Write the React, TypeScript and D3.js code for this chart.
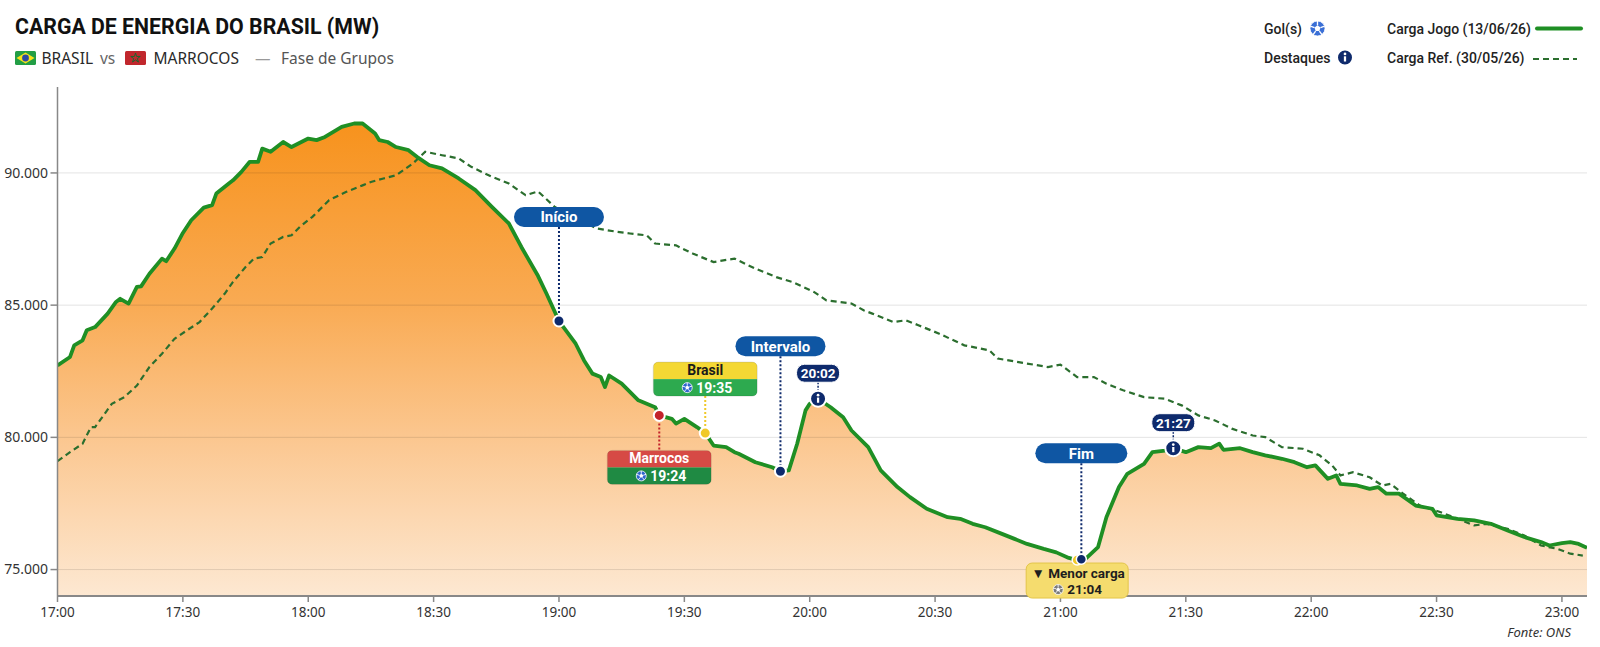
import React from "react";
import * as d3 from "d3";

// ---------------- DATA ----------------
const xTickLabels = ["17:00", "17:30", "18:00", "18:30", "19:00", "19:30", "20:00", "20:30", "21:00", "21:30", "22:00", "22:30", "23:00"];
const yTickValues = [75000, 80000, 85000, 90000];
const timeDomain = ["17:00", "23:06"];
const loadDomain = [74000, 93250];

const cargaJogo: [string, number][] = [
  ["17:00", 82720], ["17:03", 83040], ["17:04", 83480], ["17:06", 83670], ["17:07", 84050], ["17:09", 84170],
  ["17:12", 84680], ["17:14", 85120], ["17:15", 85240], ["17:17", 85060], ["17:19", 85690], ["17:20", 85710],
  ["17:22", 86190], ["17:25", 86760], ["17:26", 86660], ["17:28", 87140], ["17:30", 87730], ["17:32", 88210],
  ["17:35", 88690], ["17:37", 88780], ["17:38", 89220], ["17:41", 89600], ["17:42", 89720], ["17:44", 90040],
  ["17:46", 90420], ["17:48", 90420], ["17:49", 90920], ["17:51", 90800], ["17:54", 91170], ["17:56", 90980],
  ["18:00", 91300], ["18:02", 91240], ["18:04", 91360], ["18:06", 91550], ["18:08", 91740], ["18:11", 91870],
  ["18:13", 91870], ["18:16", 91490], ["18:17", 91240], ["18:19", 91170], ["18:21", 90980], ["18:24", 90860],
  ["18:26", 90610], ["18:29", 90290], ["18:32", 90170], ["18:36", 89790], ["18:40", 89350], ["18:44", 88710],
  ["18:48", 88090], ["18:51", 87200], ["18:55", 86100], ["18:57", 85440], ["19:00", 84400], ["19:04", 83540],
  ["19:06", 82910], ["19:08", 82410], ["19:10", 82280], ["19:11", 81900], ["19:12", 82340], ["19:15", 82030],
  ["19:19", 81400], ["19:23", 81140], ["19:24", 80830], ["19:27", 80700], ["19:28", 80520], ["19:30", 80700],
  ["19:33", 80390], ["19:35", 80160], ["19:37", 79690], ["19:40", 79630], ["19:42", 79440], ["19:43", 79380],
  ["19:47", 79060], ["19:51", 78870], ["19:53", 78720], ["19:55", 78750], ["19:57", 79760], ["19:59", 81020],
  ["20:00", 81270], ["20:02", 81460], ["20:05", 81140], ["20:08", 80760], ["20:10", 80260], ["20:14", 79630],
  ["20:17", 78750], ["20:21", 78120], ["20:24", 77740], ["20:28", 77300], ["20:33", 76980], ["20:36", 76920],
  ["20:39", 76730], ["20:42", 76600], ["20:46", 76350], ["20:49", 76160], ["20:52", 75970], ["20:56", 75780],
  ["20:59", 75650], ["21:02", 75440], ["21:04", 75360], ["21:05", 75390], ["21:06", 75400], ["21:09", 75850],
  ["21:11", 76980], ["21:14", 78120], ["21:16", 78620], ["21:20", 79000], ["21:22", 79440], ["21:25", 79500],
  ["21:27", 79590], ["21:30", 79440], ["21:33", 79630], ["21:36", 79590], ["21:38", 79760], ["21:39", 79530],
  ["21:43", 79590], ["21:46", 79440], ["21:49", 79320], ["21:53", 79190], ["21:56", 79060], ["21:59", 78870],
  ["22:01", 78940], ["22:04", 78430], ["22:06", 78560], ["22:07", 78240], ["22:11", 78180], ["22:14", 78050],
  ["22:16", 78120], ["22:18", 77870], ["22:21", 77870], ["22:25", 77420], ["22:29", 77300], ["22:30", 77050],
  ["22:35", 76920], ["22:39", 76860], ["22:43", 76730], ["22:47", 76480], ["22:51", 76230], ["22:55", 76040],
  ["22:57", 75910], ["23:00", 76000], ["23:02", 76040], ["23:04", 75970], ["23:06", 75820],
];

const cargaRef: [string, number][] = [
  ["17:00", 79100], ["17:03", 79440], ["17:06", 79760], ["17:08", 80390], ["17:09", 80390], ["17:13", 81270],
  ["17:16", 81520], ["17:19", 81960], ["17:22", 82660], ["17:25", 83160], ["17:28", 83730], ["17:31", 84050],
  ["17:34", 84360], ["17:37", 84870], ["17:40", 85430], ["17:42", 85880], ["17:45", 86440], ["17:47", 86760],
  ["17:49", 86820], ["17:51", 87330], ["17:54", 87580], ["17:56", 87640], ["17:58", 87960], ["18:01", 88340],
  ["18:05", 88970], ["18:09", 89280], ["18:13", 89530], ["18:15", 89660], ["18:18", 89790], ["18:21", 89910],
  ["18:25", 90350], ["18:28", 90800], ["18:32", 90670], ["18:36", 90550], ["18:39", 90230], ["18:44", 89850],
  ["18:48", 89600], ["18:52", 89160], ["18:55", 89300], ["18:59", 88710], ["19:09", 87900], ["19:14", 87770],
  ["19:17", 87710], ["19:21", 87640], ["19:23", 87330], ["19:28", 87260], ["19:32", 86950], ["19:37", 86630],
  ["19:42", 86760], ["19:47", 86380], ["19:52", 86060], ["19:56", 85870], ["20:01", 85500], ["20:04", 85180],
  ["20:10", 85060], ["20:13", 84800], ["20:15", 84680], ["20:20", 84360], ["20:23", 84430], ["20:26", 84240],
  ["20:31", 83920], ["20:37", 83480], ["20:43", 83290], ["20:45", 82980], ["20:52", 82790], ["20:57", 82660],
  ["21:00", 82750], ["21:04", 82280], ["21:08", 82280], ["21:11", 82030], ["21:15", 81780], ["21:20", 81520],
  ["21:25", 81460], ["21:29", 81210], ["21:33", 80830], ["21:37", 80640], ["21:41", 80330], ["21:46", 80070],
  ["21:49", 80010], ["21:53", 79630], ["21:58", 79570], ["22:02", 79320], ["22:05", 78940], ["22:07", 78560],
  ["22:10", 78680], ["22:14", 78490], ["22:17", 78180], ["22:19", 78240], ["22:22", 77870], ["22:26", 77420],
  ["22:31", 77170], ["22:35", 76920], ["22:39", 76670], ["22:42", 76730], ["22:47", 76540], ["22:51", 76290],
  ["22:55", 75910], ["22:59", 75780], ["23:02", 75600], ["23:05", 75530],
];

const marcos = [
  { label: "Início", time: "19:00" },
  { label: "Intervalo", time: "19:53" },
  { label: "Fim", time: "21:05" },
];
const gols = [
  { team: "Marrocos", time: "19:24" },
  { team: "Brasil", time: "19:35" },
];
const destaques = ["20:02", "21:27"];
const menorCarga = { label: "Menor carga", time: "21:04" };

const titleText = "CARGA DE ENERGIA DO BRASIL (MW)";
const legendJogo = "Carga Jogo (13/06/26)";
const legendRef = "Carga Ref. (30/05/26)";
const sourceText = "Fonte: ONS";

// ---------------- LAYOUT / STYLE ----------------
const W = 1600;
const H = 647;
const PLOT = { left: 57.5, right: 1587, top: 87, bottom: 596 };
const FONT_UI = "'Noto Sans', 'Open Sans', sans-serif";
const FONT_HEAD = "Roboto, 'Noto Sans', sans-serif";
const GREEN = "#1f8f24";
const REF_GREEN = "#2b6e2e";
const PILL_BLUE = "#0f56a3";
const NAVY = "#0e2a6c";

const marcoLayout: Record<string, { above: number; w: number }> = {
  "Início": { above: 104, w: 90 },
  Intervalo: { above: 125, w: 90 },
  Fim: { above: 106, w: 92 },
};
const golLayout: Record<string, { top: string; bottom: string; text: string; dot: string; below: boolean; gap: number }> = {
  Marrocos: { top: "#d64a45", bottom: "#1f8a43", text: "#ffffff", dot: "#c3232b", below: true, gap: 35 },
  Brasil: { top: "#f4d834", bottom: "#2daa4f", text: "#1a1a1a", dot: "#f0c929", below: false, gap: 37 },
};

const toMin = (s: string) => {
  const [h, m] = s.split(":").map(Number);
  return h * 60 + m;
};

type Pt = { t: number; v: number };

function valueAt(series: Pt[], t: number) {
  const bis = d3.bisector((d: Pt) => d.t).left;
  const i = bis(series, t);
  if (i <= 0) return series[0].v;
  if (i >= series.length) return series[series.length - 1].v;
  const a = series[i - 1], b = series[i];
  if (b.t === t) return b.v;
  return a.v + ((b.v - a.v) * (t - a.t)) / (b.t - a.t);
}

function Ball({ cx, cy, r, color = "#2f65cc" }: { cx: number; cy: number; r: number; color?: string }) {
  const pent = d3.range(5).map((k) => {
    const a = -Math.PI / 2 + (k * 2 * Math.PI) / 5;
    return [cx + Math.cos(a) * r * 0.42, cy + Math.sin(a) * r * 0.42];
  });
  return (
    <g>
      <circle cx={cx} cy={cy} r={r} fill={color} stroke="#ffffff" strokeWidth={0.8} />
      <polygon points={pent.map((p) => p.join(",")).join(" ")} fill="#ffffff" />
      {pent.map((p, k) => {
        const a = -Math.PI / 2 + (k * 2 * Math.PI) / 5;
        return (
          <line key={k} x1={p[0]} y1={p[1]} x2={cx + Math.cos(a) * r} y2={cy + Math.sin(a) * r} stroke="#ffffff" strokeWidth={r * 0.18} />
        );
      })}
    </g>
  );
}

function InfoIcon({ cx, cy, r = 7.5 }: { cx: number; cy: number; r?: number }) {
  return (
    <g>
      <circle cx={cx} cy={cy} r={r} fill={NAVY} stroke="#ffffff" strokeWidth={2} />
      <circle cx={cx} cy={cy - r * 0.45} r={r * 0.17} fill="#ffffff" />
      <rect x={cx - r * 0.14} y={cy - r * 0.15} width={r * 0.28} height={r * 0.65} fill="#ffffff" />
    </g>
  );
}

export default function App() {
  const x = d3.scaleLinear().domain([toMin(timeDomain[0]), toMin(timeDomain[1])]).range([PLOT.left, PLOT.right]);
  const y = d3.scaleLinear().domain(loadDomain).range([PLOT.bottom, PLOT.top]);

  const jogo: Pt[] = cargaJogo.map(([t, v]) => ({ t: toMin(t), v }));
  const ref: Pt[] = cargaRef.map(([t, v]) => ({ t: toMin(t), v }));

  const areaGen = d3.area<Pt>().x((d) => x(d.t)).y0(PLOT.bottom).y1((d) => y(d.v));
  const lineGen = d3.line<Pt>().x((d) => x(d.t)).y((d) => y(d.v));

  const pos = (time: string) => {
    const t = toMin(time);
    return { px: x(t), py: y(valueAt(jogo, t)) };
  };

  const starPath = d3.symbol().type(d3.symbolStar).size(28)() || "";

  return (
    <div style={{ position: "absolute", left: 0, top: 0 }}>
      <svg width={W} height={H} style={{ display: "block", background: "#ffffff" }}>
        <defs>
          <linearGradient id="areaGrad" gradientUnits="userSpaceOnUse" x1={0} y1={y(92000)} x2={0} y2={PLOT.bottom}>
            <stop offset="0" stopColor="#f7921c" />
            <stop offset="0.38" stopColor="#f9aa52" />
            <stop offset="0.66" stopColor="#fbc68e" />
            <stop offset="1" stopColor="#fde8d2" />
          </linearGradient>
          <clipPath id="plotClip">
            <rect x={PLOT.left} y={PLOT.top} width={PLOT.right - PLOT.left} height={PLOT.bottom - PLOT.top} />
          </clipPath>
        </defs>

        {/* Title */}
        <text x={15} y={34} fontFamily={FONT_HEAD} fontWeight={700} fontSize={21.3} fill="#111">
          {titleText}
        </text>

        {/* Subtitle with flags */}
        <g>
          <rect x={15} y={51} width={21} height={14} rx={1.5} fill="#229e45" />
          <polygon points="25.5,52.5 34.5,58 25.5,63.5 16.5,58" fill="#f8e21a" />
          <circle cx={25.5} cy={58} r={3.4} fill="#2b49a3" />
          <text x={41.5} y={64} fontFamily={FONT_UI} fontSize={15.5} fill="#2a2a2a">BRASIL</text>
          <text x={100} y={64} fontFamily={FONT_UI} fontSize={15.5} fill="#666">vs</text>
          <rect x={125} y={51} width={21} height={14} rx={1.5} fill="#c1272d" />
          <path d={starPath} transform="translate(135.5,58)" fill="none" stroke="#0b6b2e" strokeWidth={0.9} />
          <text x={153.5} y={64} fontFamily={FONT_UI} fontSize={15.5} fill="#2a2a2a">MARROCOS</text>
          <text x={255} y={64} fontFamily={FONT_UI} fontSize={15.5} fill="#999">—</text>
          <text x={281} y={64} fontFamily={FONT_UI} fontSize={15.5} fill="#555">Fase de Grupos</text>
        </g>

        {/* Legend */}
        <g fontFamily={FONT_HEAD} fontWeight={500} fontSize={14} fill="#222">
          <text x={1264} y={33.5}>Gol(s)</text>
          <Ball cx={1317.5} cy={28.5} r={7.5} color="#3a6fd6" />
          <text x={1264} y={62.5}>Destaques</text>
          <InfoIcon cx={1345} cy={57.5} r={8} />
          <text x={1387} y={33.5}>{legendJogo}</text>
          <line x1={1537} x2={1581} y1={28.5} y2={28.5} stroke={GREEN} strokeWidth={4} strokeLinecap="round" />
          <text x={1387} y={62.5}>{legendRef}</text>
          <line x1={1533} x2={1577} y1={59} y2={59} stroke={REF_GREEN} strokeWidth={2.2} strokeDasharray="6,4" />
        </g>

        {/* Area */}
        <g clipPath="url(#plotClip)">
          <path d={areaGen(jogo) || ""} fill="url(#areaGrad)" />
        </g>

        {/* Grid */}
        {yTickValues.map((v) => (
          <line key={v} x1={PLOT.left} x2={PLOT.right} y1={y(v)} y2={y(v)} stroke="#000" strokeOpacity={0.11} strokeWidth={1} />
        ))}

        {/* Lines */}
        <g clipPath="url(#plotClip)">
          <path d={lineGen(ref) || ""} fill="none" stroke={REF_GREEN} strokeWidth={2.2} strokeDasharray="6,4" />
          <path d={lineGen(jogo) || ""} fill="none" stroke={GREEN} strokeWidth={3.8} strokeLinejoin="round" />
        </g>

        {/* Axes */}
        <line x1={PLOT.left} x2={PLOT.left} y1={PLOT.top} y2={PLOT.bottom} stroke="#888" strokeWidth={1.5} />
        <line x1={PLOT.left} x2={PLOT.right} y1={PLOT.bottom} y2={PLOT.bottom} stroke="#888" strokeWidth={2} />
        {yTickValues.map((v) => (
          <g key={v}>
            <line x1={PLOT.left - 7} x2={PLOT.left} y1={y(v)} y2={y(v)} stroke="#888" strokeWidth={1.5} />
            <text x={PLOT.left - 9.5} y={y(v)} dy="0.35em" textAnchor="end" fontFamily={FONT_UI} fontSize={14} fill="#333">
              {d3.format(",")(v).replace(",", ".")}
            </text>
          </g>
        ))}
        {xTickLabels.map((lab) => {
          const px = x(toMin(lab));
          return (
            <g key={lab}>
              <line x1={px} x2={px} y1={PLOT.bottom} y2={PLOT.bottom + 6} stroke="#888" strokeWidth={1.5} />
              <text x={px} y={617} textAnchor="middle" fontFamily={FONT_UI} fontSize={13.5} fill="#333">
                {lab}
              </text>
            </g>
          );
        })}

        {/* Marcos: Início / Intervalo / Fim */}
        {marcos.map((m) => {
          const { px, py } = pos(m.time);
          const L = marcoLayout[m.label];
          const cy = py - L.above;
          const h = 20;
          return (
            <g key={m.label}>
              <line x1={px} x2={px} y1={cy + h / 2} y2={py} stroke={NAVY} strokeWidth={2} strokeDasharray="2,2" />
              <rect x={px - L.w / 2} y={cy - h / 2} width={L.w} height={h} rx={h / 2} fill={PILL_BLUE} />
              <text x={px} y={cy} dy="0.36em" textAnchor="middle" fontFamily={FONT_HEAD} fontWeight={700} fontSize={15} fill="#fff">
                {m.label}
              </text>
            </g>
          );
        })}

        {/* Destaques */}
        {destaques.map((t) => {
          const { px, py } = pos(t);
          const bw = 43, bh = 18;
          const bcy = py - 25.5;
          return (
            <g key={t}>
              <line x1={px} x2={px} y1={bcy + bh / 2} y2={py - 7} stroke={NAVY} strokeWidth={1.5} strokeDasharray="2,1.5" />
              <rect x={px - bw / 2} y={bcy - bh / 2} width={bw} height={bh} rx={8} fill={NAVY} stroke="#ffffff" strokeWidth={1} />
              <text x={px} y={bcy} dy="0.36em" textAnchor="middle" fontFamily={FONT_HEAD} fontWeight={700} fontSize={13.5} fill="#fff">
                {t}
              </text>
              <InfoIcon cx={px} cy={py} r={8} />
            </g>
          );
        })}

        {/* Menor carga */}
        {(() => {
          const { px, py } = pos(menorCarga.time);
          const bw = 102, bh = 35, top = py + 3;
          return (
            <g>
              <rect x={px - bw / 2} y={top} width={bw} height={bh} rx={6} fill="#f5dc6e" stroke="#e3c54a" strokeWidth={1} />
              <text x={px + 1} y={top + 15} textAnchor="middle" fontFamily={FONT_HEAD} fontWeight={700} fontSize={13.5} fill="#1e1e1e">
                {"▼ " + menorCarga.label}
              </text>
              <Ball cx={px - 19} cy={top + 26.5} r={5} color="#7a7a7a" />
              <text x={px - 10} y={top + 31} fontFamily={FONT_HEAD} fontWeight={700} fontSize={13.5} fill="#1e1e1e">
                {menorCarga.time}
              </text>
              <circle cx={px} cy={py} r={5} fill="#f0c929" stroke="#ffffff" strokeWidth={1.5} />
            </g>
          );
        })()}
        {(() => {
          const fim = marcos[2];
          const { px, py } = pos(fim.time);
          return <circle cx={px} cy={py} r={5} fill={NAVY} stroke="#ffffff" strokeWidth={1.5} />;
        })()}
        {marcos.slice(0, 2).map((m) => {
          const { px, py } = pos(m.time);
          return <circle key={m.label} cx={px} cy={py} r={5.5} fill={NAVY} stroke="#ffffff" strokeWidth={2} />;
        })}

        {/* Gols */}
        {gols.map((g, i) => {
          const { px, py } = pos(g.time);
          const L = golLayout[g.team];
          const bw = 104, bh = 34;
          const top = L.below ? py + L.gap : py - L.gap - bh;
          const lineY1 = L.below ? py : top + bh;
          const lineY2 = L.below ? top : py;
          const cid = `golClip${i}`;
          return (
            <g key={g.team}>
              <defs>
                <clipPath id={cid}>
                  <rect x={px - bw / 2} y={top} width={bw} height={bh} rx={5} />
                </clipPath>
              </defs>
              <line x1={px} x2={px} y1={lineY1} y2={lineY2} stroke={L.dot} strokeWidth={2} strokeDasharray="2,2" />
              <g clipPath={`url(#${cid})`}>
                <rect x={px - bw / 2} y={top} width={bw} height={bh / 2} fill={L.top} />
                <rect x={px - bw / 2} y={top + bh / 2} width={bw} height={bh / 2} fill={L.bottom} />
              </g>
              <rect x={px - bw / 2} y={top} width={bw} height={bh} rx={5} fill="none" stroke="#000" strokeOpacity={0.12} />
              <text x={px} y={top + 13} textAnchor="middle" fontFamily={FONT_HEAD} fontWeight={700} fontSize={14} fill={L.text}>
                {g.team}
              </text>
              <Ball cx={px - 18} cy={top + 25.5} r={5} color="#2f65cc" />
              <text x={px - 9} y={top + 30.5} fontFamily={FONT_HEAD} fontWeight={700} fontSize={14} fill="#ffffff">
                {g.time}
              </text>
              <circle cx={px} cy={py} r={5.5} fill={L.dot} stroke="#ffffff" strokeWidth={2} />
            </g>
          );
        })}

        {/* Source */}
        <text x={1571} y={637} textAnchor="end" fontFamily={FONT_UI} fontStyle="italic" fontSize={13} fill="#333">
          {sourceText}
        </text>
      </svg>
    </div>
  );
}
